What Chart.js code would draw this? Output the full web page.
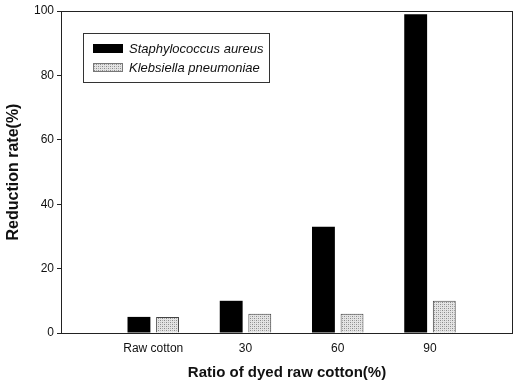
<!DOCTYPE html>
<html>
<head>
<meta charset="utf-8">
<script src="https://cdn.jsdelivr.net/npm/chart.js@4"></script>
<style>
  html, body { margin: 0; padding: 0; background: #fff; }
  #wrap { width: 518px; height: 385px; position: relative; }
</style>
</head>
<body>
<div id="wrap"><canvas id="chart"></canvas></div>
<script>
// Data
const categories = ['Raw cotton', '30', '60', '90'];
const staphValues = [5, 10, 33, 99];
const klebValues = [5, 6, 6, 10];
const seriesNames = ['Staphylococcus aureus', 'Klebsiella pneumoniae'];
const yTicks = [0, 20, 40, 60, 80, 100];

const FONT = "'Liberation Sans', Arial, sans-serif";

// categories sit at x = 1..4 on a 0..4.9 axis, like the original plot
const toPoints = vals => vals.map((v, i) => ({ x: i + 1, y: v }));

// Stippled grey fill for the second series
function makeStipple() {
    const c = document.createElement('canvas');
    c.width = 4; c.height = 4;
    const g = c.getContext('2d');
    g.fillStyle = '#e4e4e4';
    g.fillRect(0, 0, 4, 4);
    g.fillStyle = '#8a8a8a';
    g.fillRect(0, 0, 1, 1);
    g.fillRect(2, 2, 1, 1);
    g.fillStyle = '#b0b0b0';
    g.fillRect(2, 0, 1, 1);
    g.fillRect(0, 2, 1, 1);
    return g.createPattern(c, 'repeat');
}
const stipple = makeStipple();

// Box around plot area + legend inside it
const framePlugin = {
    id: 'frame',
    afterDraw(chart) {
        const { ctx, chartArea: a } = chart;
        ctx.save();
        ctx.strokeStyle = '#222';
        ctx.lineWidth = 1;
        ctx.strokeRect(a.left + 0.5, a.top + 0.5, a.right - a.left - 1, a.bottom - a.top);

        // legend
        const lx = a.left + 22, ly = a.top + 22, lw = 186, lh = 49;
        ctx.strokeStyle = '#333';
        ctx.strokeRect(lx + 0.5, ly + 0.5, lw, lh);
        ctx.font = 'italic 13px ' + FONT;
        ctx.textBaseline = 'middle';
        chart.data.datasets.forEach((ds, i) => {
            const y = ly + 15 + i * 19;
            ctx.fillStyle = ds.backgroundColor;
            ctx.fillRect(lx + 10, y - 4, 30, 9);
            if (i === 1) {
                ctx.strokeStyle = '#777';
                ctx.strokeRect(lx + 10.5, y - 3.5, 29, 8);
            }
            ctx.fillStyle = '#111';
            ctx.fillText(ds.label, lx + 46, y + 1);
        });
        ctx.restore();
    }
};

new Chart(document.getElementById('chart'), {
    type: 'bar',
    data: {
        datasets: [
            {
                label: seriesNames[0],
                data: toPoints(staphValues),
                backgroundColor: '#000',
                borderColor: '#000',
                borderWidth: 0
            },
            {
                label: seriesNames[1],
                data: toPoints(klebValues),
                backgroundColor: stipple,
                borderColor: '#444',
                borderWidth: 1
            }
        ]
    },
    options: {
        responsive: true,
        maintainAspectRatio: false,
        animation: false,
        layout: { padding: { top: 11, right: 5, left: 0, bottom: 0 } },
        datasets: {
            bar: { categoryPercentage: 0.62, barPercentage: 0.8 }
        },
        plugins: {
            legend: { display: false },
            tooltip: { enabled: false }
        },
        scales: {
            x: {
                type: 'linear',
                min: 0,
                max: 4.9,
                offset: false,
                afterBuildTicks(scale) {
                    scale.ticks = categories.map((_, i) => ({ value: i + 1 }));
                },
                grid: { display: false },
                border: { display: false },
                ticks: {
                    color: '#111',
                    font: { family: FONT, size: 12 },
                    padding: 0,
                    maxRotation: 0,
                    autoSkip: false,
                    callback: v => categories[v - 1]
                },
                title: {
                    display: true,
                    text: 'Ratio of dyed raw cotton(%)',
                    color: '#111',
                    font: { family: FONT, size: 15, weight: 'bold' },
                    padding: { top: 10, bottom: 3 }
                },
                afterFit(scale) { scale.height = 52; }
            },
            y: {
                min: 0,
                max: 100,
                afterBuildTicks(scale) { scale.ticks = yTicks.map(v => ({ value: v })); },
                grid: {
                    drawOnChartArea: false,
                    tickLength: 4,
                    color: '#222'
                },
                border: { display: false },
                ticks: {
                    color: '#111',
                    font: { family: FONT, size: 12 },
                    padding: 3
                },
                title: {
                    display: true,
                    text: 'Reduction rate(%)',
                    color: '#111',
                    font: { family: FONT, size: 16, weight: 'bold' },
                    padding: { top: 4, bottom: 4 }
                },
                afterFit(scale) { scale.width = 61; }
            }
        }
    },
    plugins: [framePlugin]
});
</script>
</body>
</html>
